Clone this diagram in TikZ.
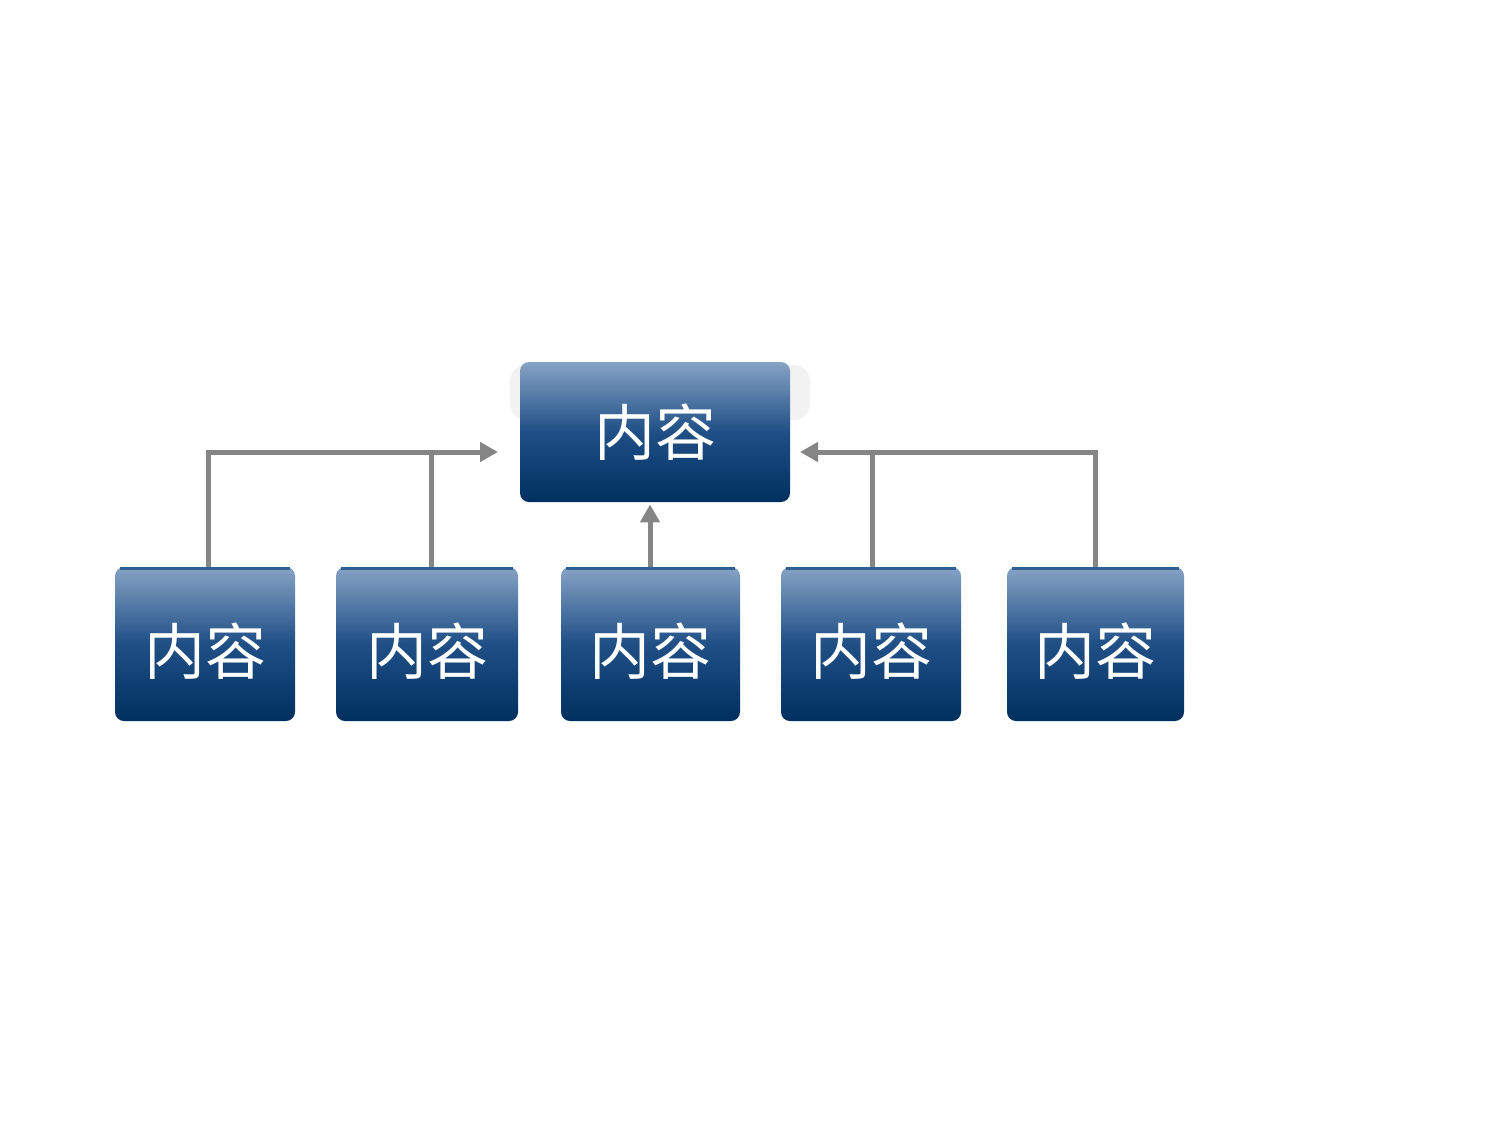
\documentclass[tikz,border=0pt]{standalone}
\usepackage{fontspec}
\newfontfamily\cjk{Noto Sans CJK SC}
\usetikzlibrary{arrows.meta,calc}
\definecolor{boxtop}{HTML}{86A3C4}
\definecolor{boxmid}{HTML}{1F4F86}
\definecolor{boxbot}{HTML}{00305F}
\definecolor{boxedge}{HTML}{2F5F94}
\definecolor{arrgray}{HTML}{858585}
\tikzset{
  box/.style={rounded corners=4.5pt, top color=boxtop, bottom color=boxbot, middle color=boxmid,
    text=white, font=\cjk\fontsize{30.5}{32}\selectfont, inner sep=0pt},
  conn/.style={draw=arrgray, line width=2.5pt},
  tip/.style={-{Triangle[length=9pt,width=9.5pt]}}
}
\newcommand{\lowtxt}{\phantom{内容}\llap{\raisebox{-3.5pt}[0pt][0pt]{内容}}}
\begin{document}
\begin{tikzpicture}[x=0.5pt,y=-0.5pt]
\useasboundingbox (0,0) rectangle (1500,1125);
% soft shadow behind top box
\fill[gray!10, rounded corners=8pt] (510,365) rectangle (810,420);
\node[box, minimum width=135pt, minimum height=70pt] (top) at (655,432) {内容};
\node[box, minimum width=90pt, minimum height=77pt] (b1) at (205,644) {\lowtxt};
\node[box, minimum width=91pt, minimum height=77pt] (b2) at (427,644) {\lowtxt};
\node[box, minimum width=89.5pt, minimum height=77pt] (b3) at (650.5,644) {\lowtxt};
\node[box, minimum width=90pt, minimum height=77pt] (b4) at (871,644) {\lowtxt};
\node[box, minimum width=88.5pt, minimum height=77pt] (b5) at (1095.5,644) {\lowtxt};
\foreach \n in {b1,b2,b3,b4,b5}{
  \draw[boxedge, line width=1.5pt] ($(\n.north west)+(5,2)$) -- ($(\n.north east)+(-5,2)$);
}
\coordinate (jl) at (498,452);
\coordinate (jr) at (800,452);
\draw[conn, tip] ($(b1.north)+(3,0)$) |- (jl);
\draw[conn] ($(b2.north)+(4,0)$) -- ($(b2.north |- jl)+(4,0)$);
\draw[conn, tip] ($(b3.north)+(-0.5,0)$) -- ($(b3.north |- top.south)+(-0.5,2)$);
\draw[conn, tip] (b5.north) |- (jr);
\draw[conn] ($(b4.north)+(1,0)$) -- ($(b4.north |- jr)+(1,0)$);
\end{tikzpicture}
\end{document}
